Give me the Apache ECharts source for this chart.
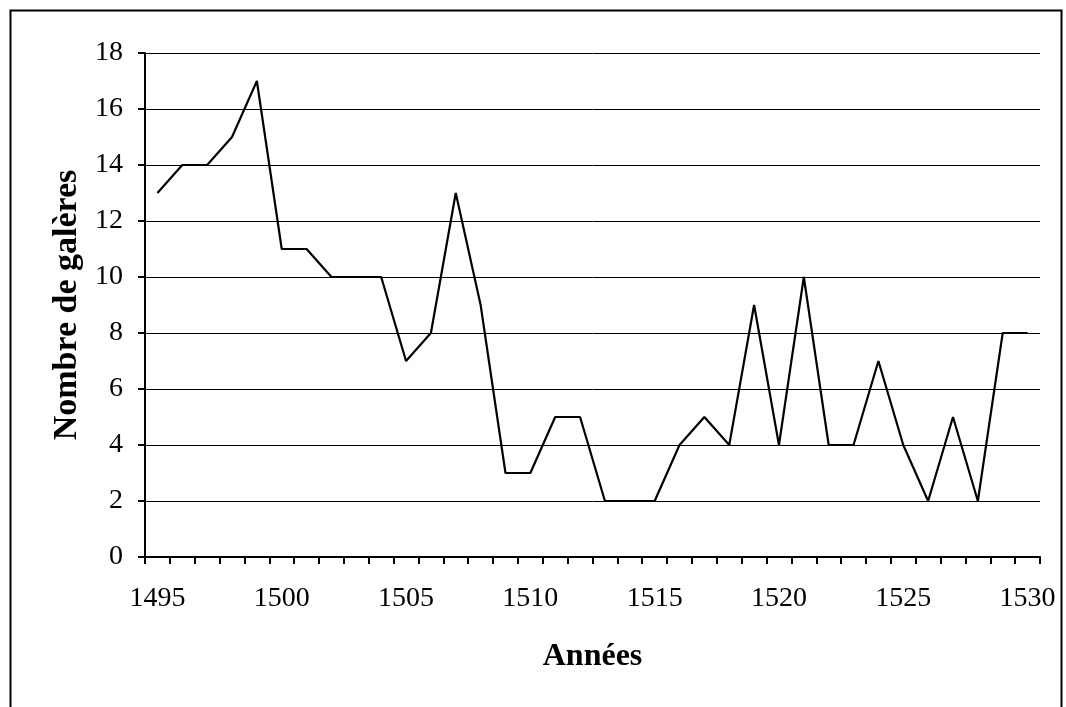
<!DOCTYPE html>
<html>
<head>
<meta charset="utf-8">
<script src="https://cdn.jsdelivr.net/npm/echarts@6/dist/echarts.min.js"></script>
<style>
html,body{margin:0;padding:0;background:#fff;}
#chart{width:1066px;height:707px;}
</style>
</head>
<body>
<div id="chart"></div>
<script>
const years = ['1495','1496','1497','1498','1499','1500','1501','1502','1503','1504','1505','1506','1507','1508','1509','1510','1511','1512','1513','1514','1515','1516','1517','1518','1519','1520','1521','1522','1523','1524','1525','1526','1527','1528','1529','1530'];
const galleys = [13,14,14,15,17,11,11,10,10,10,7,8,13,9,3,3,5,5,2,2,2,4,5,4,9,4,10,4,4,7,4,2,5,2,8,8];
const yTicks = {min:0, max:18, interval:2};
const xTitle = 'Années';
const yTitle = 'Nombre de galères';

const chart = echarts.init(document.getElementById('chart'), null, {renderer:'canvas'});
const font = '"Liberation Serif", "Times New Roman", serif';
chart.setOption({
  backgroundColor:'#fff',
  animation:false,
  graphic:[{
    type:'rect', left:8, top:8, silent:true,
    shape:{x:0,y:0,width:1051,height:760},
    style:{fill:'none', stroke:'#000', lineWidth:2}
  }],
  grid:{left:145, right:26, top:53, bottom:150},
  xAxis:{
    type:'category', data:years, boundaryGap:true,
    name:xTitle, nameLocation:'middle', nameGap:84,
    nameTextStyle:{fontFamily:font, fontSize:32, fontWeight:'bold', color:'#000'},
    axisLine:{lineStyle:{color:'#000', width:2}},
    axisTick:{show:true, interval:0, length:7, lineStyle:{color:'#000', width:2}},
    axisLabel:{interval:4, fontFamily:font, fontSize:28, color:'#000', margin:28},
    splitLine:{show:false}
  },
  yAxis:{
    type:'value', min:yTicks.min, max:yTicks.max, interval:yTicks.interval,
    name:yTitle, nameLocation:'middle', nameGap:60, nameRotate:90,
    nameTextStyle:{fontFamily:font, fontSize:34, fontWeight:'bold', color:'#000'},
    axisLine:{show:true, lineStyle:{color:'#000', width:2}},
    axisTick:{show:true, length:7, lineStyle:{color:'#000', width:2}},
    axisLabel:{fontFamily:font, fontSize:28, color:'#000', margin:22},
    splitLine:{show:true, lineStyle:{color:'#000', width:1}}
  },
  series:[{
    type:'line', data:galleys, showSymbol:false, symbol:'none',
    lineStyle:{color:'#000', width:2.2}
  }]
});
</script>
</body>
</html>
